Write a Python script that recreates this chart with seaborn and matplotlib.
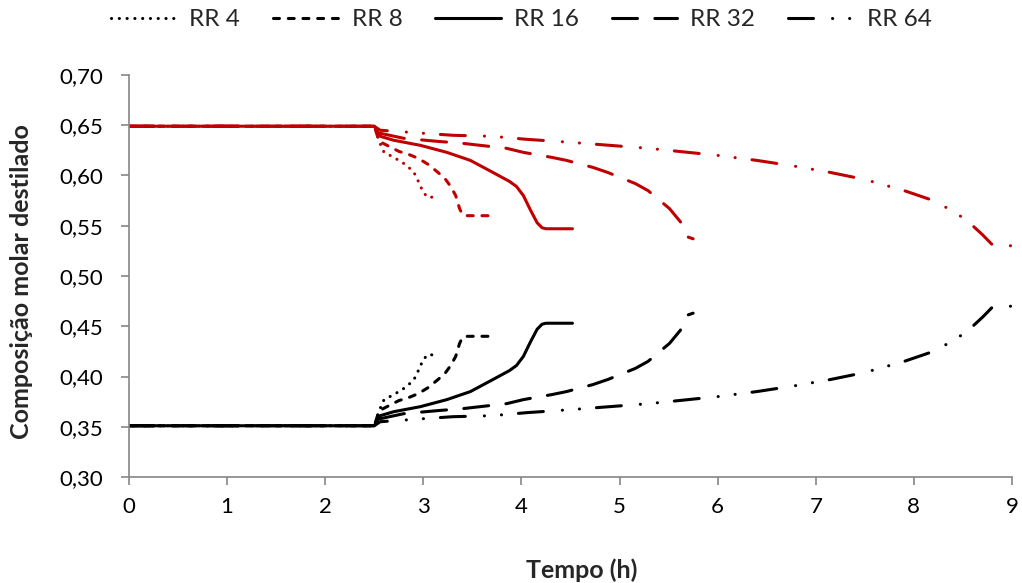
import matplotlib
matplotlib.use("Agg")
import matplotlib.pyplot as plt
import seaborn as sns
import numpy as np

# ---------------- data ----------------
labels = ["RR 4", "RR 8", "RR 16", "RR 32", "RR 64"]

t_rr4 = [0, 2.5, 2.55, 2.6, 2.7, 2.8, 2.9, 2.95, 3.0, 3.05, 3.13]
black_rr4 = [0.351, 0.351, 0.366, 0.377, 0.382, 0.388, 0.396, 0.406, 0.417, 0.422, 0.421]
red_rr4 = [0.649, 0.649, 0.634, 0.623, 0.618, 0.612, 0.604, 0.594, 0.583, 0.578, 0.579]

t_rr8 = [0, 2.5, 2.55, 2.65, 2.75, 2.85, 2.95, 3.05, 3.15, 3.22, 3.28, 3.33, 3.37, 3.40, 3.45, 3.72]
black_rr8 = [0.351, 0.351, 0.366, 0.371, 0.376, 0.379, 0.383, 0.389, 0.397, 0.403, 0.411, 0.420, 0.433, 0.439, 0.440, 0.440]
red_rr8 = [0.649, 0.649, 0.634, 0.629, 0.624, 0.621, 0.617, 0.611, 0.603, 0.597, 0.589, 0.580, 0.567, 0.561, 0.560, 0.560]

t_rr16 = [0, 2.5, 2.56, 2.7, 2.97, 3.24, 3.48, 3.71, 3.88, 3.95, 4.02, 4.09, 4.16, 4.21, 4.25, 4.52]
black_rr16 = [0.351, 0.351, 0.361, 0.365, 0.370, 0.377, 0.385, 0.397, 0.406, 0.411, 0.420, 0.434, 0.447, 0.452, 0.453, 0.453]
red_rr16 = [0.649, 0.649, 0.639, 0.635, 0.630, 0.623, 0.615, 0.603, 0.594, 0.589, 0.580, 0.566, 0.553, 0.548, 0.547, 0.547]

t_rr32 = [0, 2.5, 2.56, 2.8, 3.14, 3.4, 3.58, 3.85, 4.02, 4.31, 4.46, 4.73, 4.88, 5.16, 5.29, 5.51, 5.62, 5.69, 5.75]
black_rr32 = [0.351, 0.351, 0.358, 0.363, 0.366, 0.368, 0.370, 0.373, 0.377, 0.382, 0.385, 0.392, 0.397, 0.408, 0.415, 0.433, 0.446, 0.461, 0.463]
red_rr32 = [0.649, 0.649, 0.642, 0.637, 0.634, 0.632, 0.630, 0.627, 0.623, 0.618, 0.615, 0.608, 0.603, 0.592, 0.585, 0.567, 0.554, 0.539, 0.537]

t_rr64 = [0, 2.5, 2.56, 3.0, 3.3, 3.7, 4.05, 4.5, 4.9, 5.3, 5.6, 6.0, 6.4, 6.8, 7.15, 7.5, 7.9, 8.2, 8.35, 8.5, 8.6, 8.7, 8.8, 9.0]
black_rr64 = [0.351, 0.351, 0.355, 0.358, 0.360, 0.361, 0.364, 0.367, 0.370, 0.373, 0.376, 0.380, 0.385, 0.391, 0.397, 0.404, 0.415, 0.425, 0.433, 0.442, 0.450, 0.459, 0.469, 0.470]
red_rr64 = [0.649, 0.649, 0.645, 0.642, 0.640, 0.639, 0.636, 0.633, 0.630, 0.627, 0.624, 0.620, 0.615, 0.609, 0.603, 0.596, 0.585, 0.575, 0.567, 0.558, 0.550, 0.541, 0.531, 0.530]

times = [t_rr4, t_rr8, t_rr16, t_rr32, t_rr64]
blacks = [black_rr4, black_rr8, black_rr16, black_rr32, black_rr64]
reds = [red_rr4, red_rr8, red_rr16, red_rr32, red_rr64]

x_ticks = list(range(0, 10))
y_ticks = [0.30, 0.35, 0.40, 0.45, 0.50, 0.55, 0.60, 0.65, 0.70]

# ---------------- style ----------------
sns.set_theme(style="white")
plt.rcParams["font.family"] = ["Lato", "DejaVu Sans"]
plt.rcParams["lines.scale_dashes"] = False

# dash patterns in points (on, off, ...)
dash_styles = [
    (0.1, 5.5),
    (4.3, 6.3),
    None,
    (18, 12.5),
    (18, 13.7, 0.1, 12.2, 0.1, 12.2),
]

RED = "#C00000"
LW = 2.2

fig = plt.figure(figsize=(10.22, 5.83), dpi=100)
ax = fig.add_axes([0.1262, 0.1818, 0.8640, 0.6896])

for t, bk, rd, lab, ds in zip(times, blacks, reds, labels, dash_styles):
    for vals, col, lb in [(rd, RED, None), (bk, "black", lab)]:
        sns.lineplot(x=t, y=vals, ax=ax, color=col, linewidth=LW,
                     label=lb, sort=False, estimator=None, legend=False)
        line = ax.lines[-1]
        line.set_solid_capstyle("round")
        line.set_dash_capstyle("round")
        if ds is not None:
            line.set_dashes(ds)

ax.set_xlim(0, 9)
ax.set_ylim(0.30, 0.70)
ax.set_xticks(x_ticks)
ax.set_yticks(y_ticks)
ax.set_xticklabels([str(v) for v in x_ticks])
ax.set_yticklabels([f"{v:.2f}".replace(".", ",") for v in y_ticks])

for s in ["top", "right"]:
    ax.spines[s].set_visible(False)
for s in ["left", "bottom"]:
    ax.spines[s].set_color("#868686")
    ax.spines[s].set_linewidth(1.2)

ax.tick_params(axis="both", which="major", direction="out", length=5.5,
               width=1.2, color="#868686", labelsize=16, labelcolor="black",
               bottom=True, left=True)
ax.tick_params(axis="x", pad=9)
ax.tick_params(axis="y", pad=13)

ax.set_xlabel("Tempo (h)", fontsize=18, fontweight="bold")
ax.set_ylabel("Composição molar destilado", fontsize=18, fontweight="bold")
ax.xaxis.set_label_coords(0.513, -0.2015)
ax.yaxis.set_label_coords(-0.109, 0.485)

handles = [l for l in ax.lines if l.get_color() == "black"]
fig.legend(handles, labels, loc="center", ncol=5, bbox_to_anchor=(0.510, 0.966),
           frameon=False, fontsize=17.5, handlelength=2.7, handletextpad=0.54,
           columnspacing=1.35)

fig.savefig("out.png", dpi=100)
